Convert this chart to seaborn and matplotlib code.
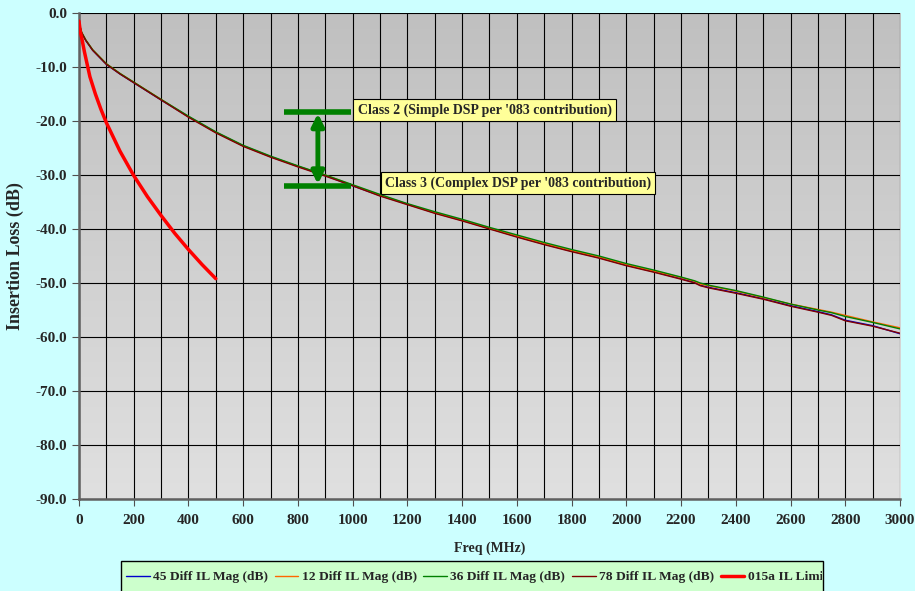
import numpy as np
import pandas as pd
import matplotlib
matplotlib.use("Agg")
import matplotlib.pyplot as plt
from matplotlib.colors import LinearSegmentedColormap
from matplotlib.patches import Rectangle
from matplotlib.transforms import Bbox, TransformedBbox
import seaborn as sns

# frequency points (MHz)
freq = [0, 10, 25, 50, 100, 150, 200, 250, 300, 400, 500, 600, 700, 800, 900,
        1000, 1100, 1200, 1300, 1400, 1500, 1600, 1700, 1800, 1900, 2000, 2100,
        2200, 2250, 2270, 2300, 2400, 2500, 2600, 2700, 2750, 2800, 2900, 3000]

il_45 = [-1.9, -3.7, -5.1, -6.9, -9.5, -11.3, -12.9, -14.5, -16.1, -19.2, -22.1, -24.6,
         -26.6, -28.4, -30.1, -32.0, -33.8, -35.4, -37.0, -38.4, -39.9, -41.4, -42.8,
         -44.1, -45.3, -46.7, -47.9, -49.2, -49.9, -50.4, -50.8, -51.8, -52.9, -54.2,
         -55.3, -55.9, -56.9, -57.9, -59.4]
il_12 = [-1.8, -3.6, -5.0, -6.8, -9.4, -11.2, -12.8, -14.4, -16.0, -19.2, -22.1, -24.6,
         -26.6, -28.4, -30.0, -31.9, -33.7, -35.4, -37.0, -38.4, -39.9, -41.3, -42.7,
         -44.0, -45.2, -46.6, -47.8, -49.0, -49.7, -50.2, -50.5, -51.5, -52.7, -53.9,
         -54.9, -55.4, -56.0, -57.2, -58.3]
il_36 = [-1.8, -3.6, -5.0, -6.8, -9.4, -11.2, -12.8, -14.4, -16.0, -19.1, -22.0, -24.5,
         -26.5, -28.3, -30.0, -31.8, -33.6, -35.3, -36.8, -38.2, -39.7, -41.1, -42.5,
         -43.8, -45.0, -46.4, -47.6, -48.9, -49.6, -50.0, -50.4, -51.4, -52.6, -53.9,
         -55.0, -55.5, -56.2, -57.3, -58.5]
il_78 = [-1.9, -3.7, -5.1, -6.9, -9.5, -11.3, -12.9, -14.5, -16.1, -19.3, -22.2, -24.7,
         -26.7, -28.5, -30.2, -32.0, -33.9, -35.5, -37.1, -38.5, -40.0, -41.5, -42.9,
         -44.2, -45.4, -46.8, -48.0, -49.3, -50.0, -50.5, -50.9, -51.9, -53.0, -54.3,
         -55.4, -56.0, -57.0, -58.0, -59.3]

limit_freq = [0, 5, 10, 20, 40, 60, 80, 100, 150, 200, 250, 300, 350, 400, 450, 500]
limit_il = [-1.5, -3.5, -4.6, -7.2, -11.8, -15.0, -17.8, -20.3, -25.6, -30.1, -34.0,
            -37.5, -40.8, -43.8, -46.6, -49.2]

series_names = ["45 Diff IL Mag (dB)", "12 Diff IL Mag (dB)",
                "36 Diff IL Mag (dB)", "78 Diff IL Mag (dB)"]
series_colors = ["#0000CC", "#FF6600", "#008000", "#800000"]
limit_name = "015a IL Limit"

# annotation positions (data units)
class2_level = -18.3
class3_level = -32.0
bar_x = (750, 995)
arrow_x = 873

W, H = 915, 591

sns.set_style("white")
plt.rcParams["font.family"] = ["Liberation Serif", "DejaVu Serif"]
plt.rcParams["font.weight"] = "bold"

fig = plt.figure(figsize=(W / 100, H / 100), dpi=100, facecolor="#CCFFFF")
ax = fig.add_axes([0.0863, 0.1557, 0.8973, 0.8223])

# gradient plot area
cmap = LinearSegmentedColormap.from_list("bg", ["#E0E0E0", "#C0C0C0"])
ax.imshow(np.linspace(0, 1, 256).reshape(-1, 1), cmap=cmap, origin="lower",
          extent=[0, 1, 0, 1], transform=ax.transAxes, aspect="auto", zorder=0)

for name, vals, col in zip(series_names, [il_45, il_12, il_36, il_78], series_colors):
    sns.lineplot(x=freq, y=vals, color=col, lw=1.0, ax=ax, label=name, zorder=3)
sns.lineplot(x=limit_freq, y=limit_il, color="#FF0000", lw=2.5, ax=ax,
             label=limit_name, zorder=4)

ax.set_xlim(0, 3000)
ax.set_ylim(-90, 0)
ax.set_xticks(np.arange(0, 3001, 200))
ax.set_xticks(np.arange(0, 3001, 100), minor=True)
ax.set_yticks(np.arange(-90, 1, 10))
ax.set_yticklabels([f"{v:.1f}" for v in np.arange(-90, 1, 10)])
ax.grid(True, which="both", axis="x", color="black", lw=0.8, zorder=1)
ax.grid(True, which="major", axis="y", color="black", lw=0.8, zorder=1)
ax.tick_params(axis="both", which="major", direction="out", length=5,
               color="#505050", labelsize=11, bottom=True, left=True)
ax.tick_params(axis="x", which="major", pad=6)
ax.tick_params(axis="x", which="minor", length=0)
for lab in ax.get_xticklabels() + ax.get_yticklabels():
    lab.set_fontweight("bold")
for side in ["top", "right"]:
    ax.spines[side].set_visible(False)
for side in ["left", "bottom"]:
    ax.spines[side].set_color("#606060")
    ax.spines[side].set_linewidth(1.8)

ax.set_xlabel("Freq (MHz)", fontsize=10, fontweight="bold", labelpad=10)
ax.set_ylabel("Insertion Loss (dB)", fontsize=13, fontweight="bold", labelpad=8)

# class markers
green = "#008000"
ax.plot(bar_x, [class2_level, class2_level], color=green, lw=4, zorder=5,
        solid_capstyle="butt")
ax.plot(bar_x, [class3_level, class3_level], color=green, lw=4, zorder=5,
        solid_capstyle="butt")
ax.annotate("", xy=(arrow_x, class2_level - 0.3), xytext=(arrow_x, class3_level + 0.3),
            arrowprops=dict(arrowstyle="<|-|>", color=green, lw=3.5,
                            mutation_scale=18, shrinkA=0, shrinkB=0), zorder=5)
box = dict(boxstyle="square,pad=0.3", fc="#FFFF99", ec="black", lw=0.8)
ax.text(1018, -17.95, "Class 2 (Simple DSP per '083 contribution)", fontsize=10,
        fontweight="bold", va="center", ha="left", bbox=box, zorder=6)
ax.text(1118, -31.55, "Class 3 (Complex DSP per '083 contribution)", fontsize=10,
        fontweight="bold", va="center", ha="left", bbox=box, zorder=6)

# legend: box runs off the bottom edge and clips the last label
leg_left, leg_right, leg_top = 121 / W, 823 / W, 1 - 561 / H
leg_box = Rectangle((leg_left, -0.05), leg_right - leg_left, leg_top + 0.05,
                    transform=fig.transFigure, fc="#CCFFCC", ec="black", lw=1.0,
                    zorder=1)
fig.add_artist(leg_box)

ax.legend_.remove()
handles, labels = ax.get_legend_handles_labels()
leg = fig.legend(handles, labels, loc="upper left",
                 bbox_to_anchor=(126 / W, 1 - 571 / H),
                 ncol=5, frameon=False, fontsize=9.7,
                 handlelength=1.75, handletextpad=0.25, columnspacing=0.5,
                 borderpad=0.0, borderaxespad=0)
leg.set_zorder(2)
clip = TransformedBbox(Bbox([[leg_left, 0], [leg_right - 1 / W, 1]]), fig.transFigure)
for t in leg.get_texts():
    t.set_fontweight("bold")
    t.set_clip_box(clip)
    t.set_clip_on(True)

fig.savefig("out.png", dpi=100, facecolor=fig.get_facecolor())
